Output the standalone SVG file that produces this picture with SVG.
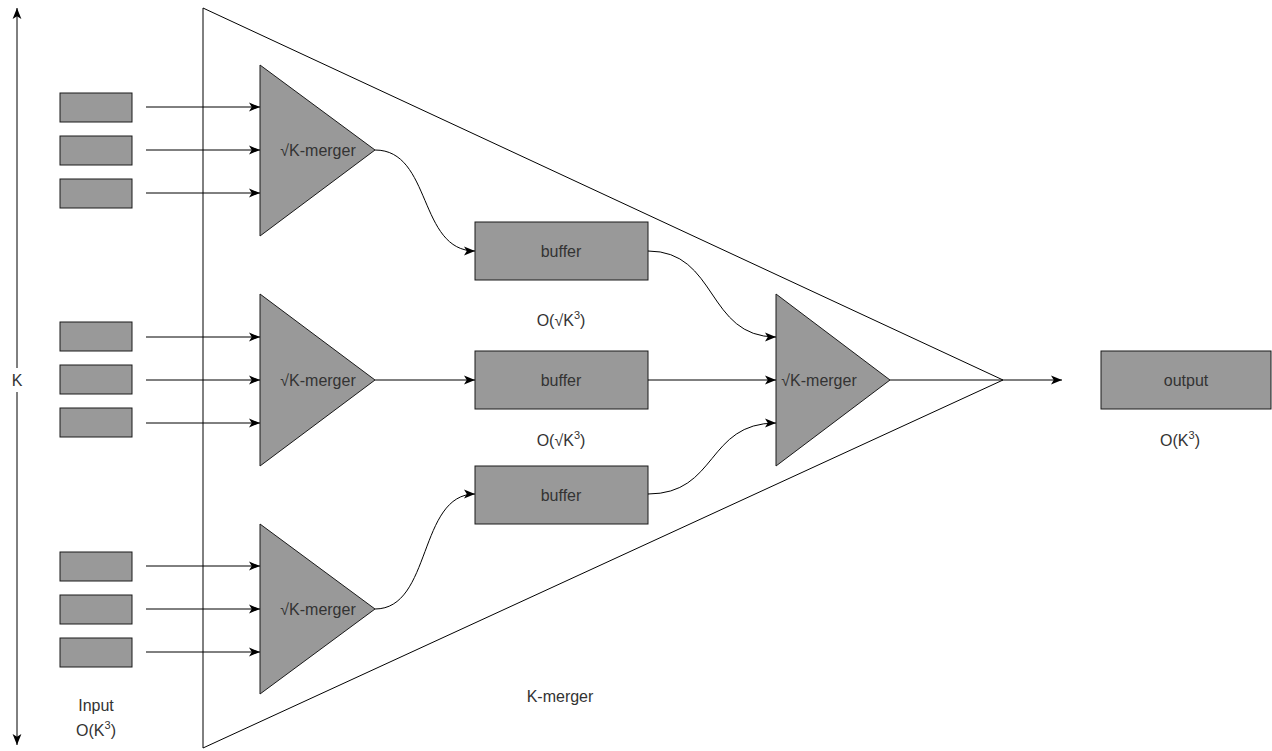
<svg xmlns="http://www.w3.org/2000/svg" width="1272" height="751" viewBox="0 0 1272 751">
  <style>
    .box { fill: #999999; stroke: #1a1a1a; stroke-width: 1; }
    .merger { fill: #999999; stroke: #1a1a1a; stroke-width: 1; }
    .outline { fill: none; stroke: #000; stroke-width: 1; }
    .edge { fill: none; stroke: #000; stroke-width: 1; }
    text { font-family: "Liberation Sans", Arial, sans-serif; font-size: 16px; fill: #333333; text-anchor: middle; dominant-baseline: central; }
    .sup { font-size: 11px; }
  </style>
  <defs>
    <marker id="arrow" viewBox="0 0 10 10" refX="10" refY="5" markerWidth="11" markerHeight="11" markerUnits="userSpaceOnUse" orient="auto">
      <path d="M0,1 L10,5 L0,9 L2.5,5 Z" fill="#000"/>
    </marker>
    <marker id="arrowStart" viewBox="0 0 10 10" refX="0" refY="5" markerWidth="11" markerHeight="11" markerUnits="userSpaceOnUse" orient="auto">
      <path d="M10,1 L0,5 L10,9 L7.5,5 Z" fill="#000"/>
    </marker>
  </defs>

  <rect width="1272" height="751" fill="#ffffff"/>

  <!-- K-merger outline -->
  <g id="k-merger">
    <polygon class="outline" points="203,8 1003,380 203,748"/>
    <text x="560" y="696">K-merger</text>
  </g>

  <!-- K dimension axis -->
  <g id="k-axis">
    <line class="edge" x1="17" y1="8" x2="17" y2="745" marker-start="url(#arrowStart)" marker-end="url(#arrow)"/>
    <rect x="8" y="368" width="18" height="24" fill="#ffffff"/>
    <text x="17" y="380">K</text>
  </g>

  <!-- input streams -->
  <g id="inputs">
    <rect class="box" x="60" y="93" width="72" height="29"/>
    <rect class="box" x="60" y="136" width="72" height="29"/>
    <rect class="box" x="60" y="179" width="72" height="29"/>
    <rect class="box" x="60" y="322" width="72" height="29"/>
    <rect class="box" x="60" y="365" width="72" height="29"/>
    <rect class="box" x="60" y="408" width="72" height="29"/>
    <rect class="box" x="60" y="552" width="72" height="29"/>
    <rect class="box" x="60" y="595" width="72" height="29"/>
    <rect class="box" x="60" y="638" width="72" height="29"/>
    <text x="96" y="705">Input</text>
    <text x="96" y="730">O(K<tspan class="sup" dy="-5">3</tspan><tspan dy="5">)</tspan></text>
  </g>

  <!-- sub-mergers -->
  <g id="merger-top">
    <polygon class="merger" points="260,65 375,150 260,236"/>
    <text x="318" y="150">√K-merger</text>
  </g>
  <g id="merger-mid">
    <polygon class="merger" points="260,294 375,380 260,466"/>
    <text x="318" y="380">√K-merger</text>
  </g>
  <g id="merger-bot">
    <polygon class="merger" points="260,524 375,609 260,694"/>
    <text x="318" y="609">√K-merger</text>
  </g>

  <!-- buffers -->
  <g id="buffer-top">
    <rect class="box" x="475" y="222" width="173" height="58"/>
    <text x="561" y="251">buffer</text>
  </g>
  <g id="buffer-mid">
    <rect class="box" x="475" y="351" width="173" height="58"/>
    <text x="561" y="380">buffer</text>
  </g>
  <g id="buffer-bot">
    <rect class="box" x="475" y="466" width="173" height="58"/>
    <text x="561" y="495">buffer</text>
  </g>
  <g id="buffer-sizes">
    <text x="561" y="320">O(√K<tspan class="sup" dy="-5">3</tspan><tspan dy="5">)</tspan></text>
    <text x="561" y="440">O(√K<tspan class="sup" dy="-5">3</tspan><tspan dy="5">)</tspan></text>
  </g>

  <!-- final merger -->
  <g id="merger-final">
    <polygon class="merger" points="776,294 890,380 776,466"/>
    <text x="819" y="380">√K-merger</text>
  </g>

  <!-- output -->
  <g id="output">
    <rect class="box" x="1101" y="351" width="170" height="58"/>
    <text x="1186" y="380">output</text>
    <text x="1180" y="440">O(K<tspan class="sup" dy="-5">3</tspan><tspan dy="5">)</tspan></text>
  </g>

  <!-- connectors -->
  <g id="connectors">
    <line class="edge" x1="146" y1="107" x2="260" y2="107" marker-end="url(#arrow)"/>
    <line class="edge" x1="146" y1="150" x2="260" y2="150" marker-end="url(#arrow)"/>
    <line class="edge" x1="146" y1="193" x2="260" y2="193" marker-end="url(#arrow)"/>
    <line class="edge" x1="146" y1="337" x2="260" y2="337" marker-end="url(#arrow)"/>
    <line class="edge" x1="146" y1="380" x2="260" y2="380" marker-end="url(#arrow)"/>
    <line class="edge" x1="146" y1="423" x2="260" y2="423" marker-end="url(#arrow)"/>
    <line class="edge" x1="146" y1="566" x2="260" y2="566" marker-end="url(#arrow)"/>
    <line class="edge" x1="146" y1="609" x2="260" y2="609" marker-end="url(#arrow)"/>
    <line class="edge" x1="146" y1="652" x2="260" y2="652" marker-end="url(#arrow)"/>

    <path class="edge" d="M375,150 C432,150 418,251 475,251" marker-end="url(#arrow)"/>
    <line class="edge" x1="375" y1="380" x2="475" y2="380" marker-end="url(#arrow)"/>
    <path class="edge" d="M375,609 C432,609 418,494 475,494" marker-end="url(#arrow)"/>

    <path class="edge" d="M648,251 C718,251 706,337 776,337" marker-end="url(#arrow)"/>
    <line class="edge" x1="648" y1="380" x2="776" y2="380" marker-end="url(#arrow)"/>
    <path class="edge" d="M648,494 C718,494 706,423 776,423" marker-end="url(#arrow)"/>

    <line class="edge" x1="890" y1="380" x2="1062" y2="380" marker-end="url(#arrow)"/>
  </g>
</svg>
